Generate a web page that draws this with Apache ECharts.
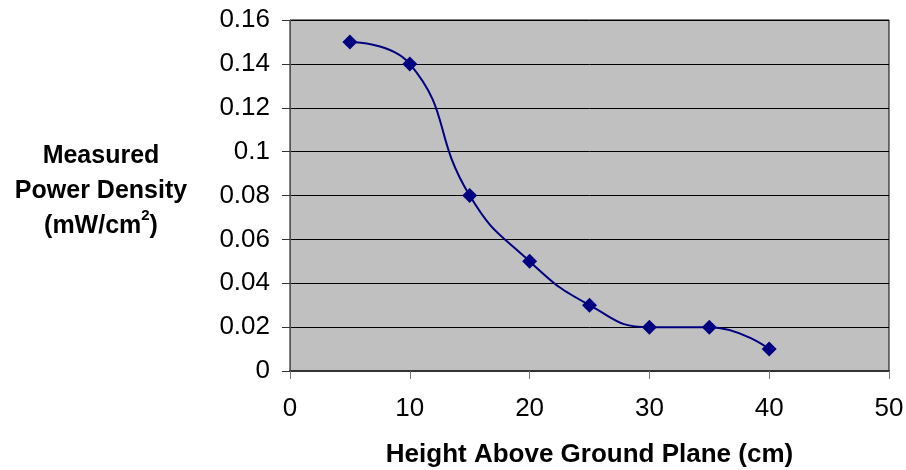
<!DOCTYPE html>
<html><head><meta charset="utf-8">
<script src="https://cdn.jsdelivr.net/npm/echarts@6/dist/echarts.min.js"></script>
<style>html,body{margin:0;padding:0;background:#fff}#c{width:906px;height:470px}</style>
</head><body><div id="c"></div>
<script>
const heights = [5, 10, 15, 20, 25, 30, 35, 40];
const density = [0.15, 0.14, 0.08, 0.05, 0.03, 0.02, 0.02, 0.01];
const xTitle = 'Height Above Ground Plane (cm)';
const yTitleLines = ['Measured', 'Power Density', '(mW/cm'];

const chart = echarts.init(document.getElementById('c'));
const font = 'Liberation Sans, Arial, sans-serif';
chart.setOption({
  backgroundColor: '#fff',
  animation: false,
  grid: { left: 290, top: 20, right: 17, bottom: 99, containLabel: false, outerBoundsMode: 'none',
    show: true, backgroundColor: '#c0c0c0', borderColor: '#000', borderWidth: 1 },
  xAxis: {
    type: 'value', min: 0, max: 50, interval: 10,
    axisLine: { show: true, lineStyle: { color: '#333', width: 2 } },
    axisTick: { show: true, length: 8, inside: false, lineStyle: { color: '#777', width: 1 } },
    axisLabel: { color: '#000', fontSize: 26, fontFamily: font, margin: 25 },
    splitLine: { show: false },
    name: xTitle, nameLocation: 'middle', nameGap: 71,
    nameTextStyle: { color: '#000', fontSize: 26, fontWeight: 'bold', fontFamily: font }
  },
  yAxis: {
    type: 'value', min: 0, max: 0.16, interval: 0.02,
    axisLine: { show: true, lineStyle: { color: '#555', width: 1 } },
    axisTick: { show: true, length: 8, lineStyle: { color: '#333', width: 1 } },
    axisLabel: { color: '#000', fontSize: 26, fontFamily: font, margin: 20,
      formatter: v => String(parseFloat(v.toFixed(2))) },
    splitLine: { show: true, lineStyle: { color: '#000', width: 1 } }
  },
  graphic: [{
    type: 'text', x: 101, y: 191,
    style: {
      text: yTitleLines[0] + '\n' + yTitleLines[1] + '\n{b|' + yTitleLines[2] + '}{s|2}{b|)}',
      align: 'center', verticalAlign: 'middle',
      font: 'bold 25px ' + font, fill: '#000', lineHeight: 35,
      rich: {
        b: { font: 'bold 25px ' + font, fill: '#000', lineHeight: 35 },
        s: { font: 'bold 15px ' + font, fill: '#000', verticalAlign: 'top', padding: [0, 0, 10, 0], lineHeight: 35 }
      }
    }
  }],
  series: [{
    type: 'line',
    data: heights.map((h, i) => [h, density[i]]),
    smooth: 0.5,
    symbol: 'diamond', symbolSize: 15,
    lineStyle: { color: '#000080', width: 2 },
    itemStyle: { color: '#000080' }
  }]
});
</script></body></html>
